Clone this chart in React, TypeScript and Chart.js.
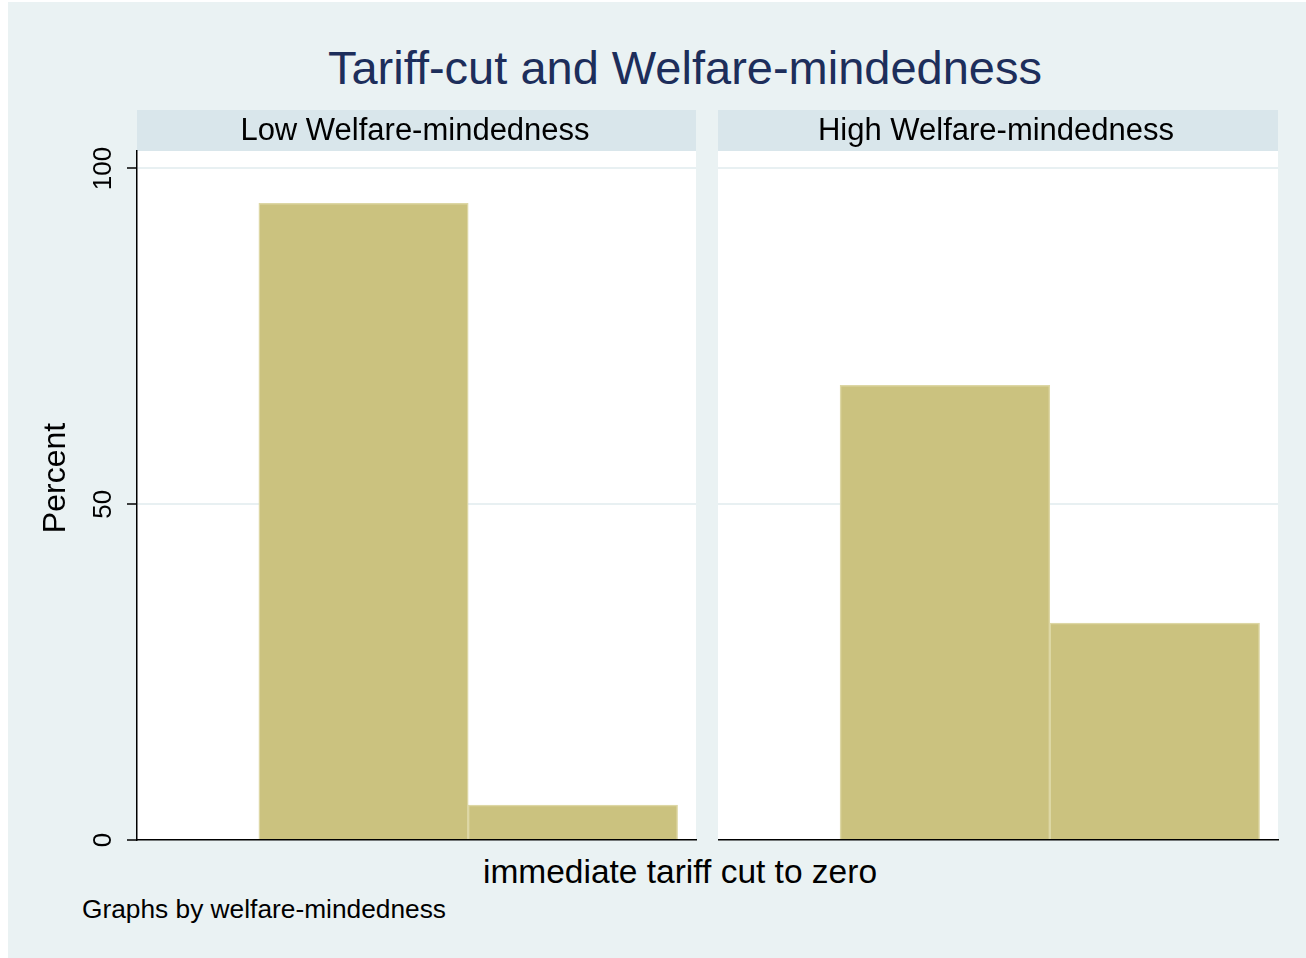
import React, { useEffect, useRef } from "react";
import { Chart, registerables } from "chart.js";

Chart.register(...registerables);

// ---------- data ----------
const chartTitle = "Tariff-cut and Welfare-mindedness";
const panelLabels = ["Low Welfare-mindedness", "High Welfare-mindedness"];
const xValues = [0, 1]; // immediate tariff cut to zero: no / yes
const lowPercent = [94.8, 5.2];
const highPercent = [67.7, 32.3];
const yTickValues = [0, 50, 100];
const yTickLabels = ["0", "50", "100"];
const yAxisTitle = "Percent";
const xAxisTitle = "immediate tariff cut to zero";
const noteText = "Graphs by welfare-mindedness";

// ---------- style ----------
const FONT = '"Liberation Sans", Arial, Helvetica, sans-serif';
const OUTER_BG = "#EAF2F3";
const STRIP_BG = "#D9E6EB";
const GRID = "#E8F0F2";
const BAR_FILL = "#CBC27F";
const BAR_EDGE = "#DDD7A5";
const TITLE_COLOR = "#1d2e5b";
const X_MIN = -1.082;
const X_MAX = 1.588;
const Y_MAX = 102.6;
const CANVAS_TOP = 140;
const CANVAS_H = 710;

const plotBgPlugin = {
  id: "plotBg",
  beforeDraw(chart: any) {
    const { ctx, chartArea } = chart;
    ctx.save();
    ctx.fillStyle = "#ffffff";
    ctx.fillRect(chartArea.left, chartArea.top, chartArea.right - chartArea.left, chartArea.bottom - chartArea.top);
    ctx.restore();
  },
};

const yLabelPlugin = {
  id: "yLabels",
  afterDraw(chart: any) {
    const ctx = chart.ctx as CanvasRenderingContext2D;
    const ys = chart.scales.y;
    ctx.save();
    ctx.fillStyle = "#000";
    ctx.textAlign = "center";
    ctx.textBaseline = "middle";
    ctx.font = `26px ${FONT}`;
    yTickValues.forEach((v, i) => {
      const y = ys.getPixelForValue(v);
      ctx.save();
      ctx.translate(73.5, y);
      ctx.rotate(-Math.PI / 2);
      ctx.fillText(yTickLabels[i], 0, 0);
      ctx.restore();
    });
    ctx.font = `32px ${FONT}`;
    ctx.save();
    ctx.translate(26, 478 - CANVAS_TOP);
    ctx.rotate(-Math.PI / 2);
    ctx.fillText(yAxisTitle, 0, 0);
    ctx.restore();
    ctx.restore();
  },
};

function makeConfig(values: number[], showYAxis: boolean): any {
  return {
    type: "bar",
    data: {
      datasets: [
        {
          data: xValues.map((x, i) => ({ x, y: values[i] })),
          backgroundColor: BAR_FILL,
          borderColor: BAR_EDGE,
          borderWidth: 1.5,
          borderSkipped: "start",
          barPercentage: 1,
          categoryPercentage: 1,
        },
      ],
    },
    options: {
      animation: false,
      responsive: false,
      maintainAspectRatio: false,
      events: [],
      layout: { padding: { left: 0, top: 151 - CANVAS_TOP, right: showYAxis ? 4 : 6, bottom: 10 } },
      plugins: {
        legend: { display: false },
        tooltip: { enabled: false },
        title: { display: false },
      },
      scales: {
        x: {
          type: "linear",
          min: X_MIN,
          max: X_MAX,
          offset: false,
          grid: { display: false, drawTicks: false },
          ticks: { display: false },
          border: { display: true, color: "#000", width: 1.5, z: 1 },
          afterBuildTicks: (s: any) => {
            s.ticks = xValues.map((v) => ({ value: v }));
          },
          afterFit: (s: any) => {
            s.height = 0;
          },
        },
        y: {
          type: "linear",
          min: 0,
          max: Y_MAX,
          afterBuildTicks: (s: any) => {
            s.ticks = yTickValues.map((v) => ({ value: v }));
          },
          afterFit: (s: any) => {
            s.width = showYAxis ? 107 : 0;
          },
          ticks: { display: false },
          grid: {
            display: true,
            color: (c: any) => (c.tick && c.tick.value === 0 ? "rgba(0,0,0,0)" : GRID),
            lineWidth: 2,
            drawTicks: showYAxis,
            tickLength: 10,
            tickColor: "#000",
            tickWidth: 1.5,
          },
          border: { display: showYAxis, color: "#000", width: 1.5 },
        },
      },
    },
    plugins: showYAxis ? [plotBgPlugin, yLabelPlugin] : [plotBgPlugin],
  };
}

function Panel(props: { values: number[]; showYAxis: boolean; left: number; width: number }) {
  const ref = useRef<HTMLCanvasElement | null>(null);
  useEffect(() => {
    if (!ref.current) return;
    const chart = new Chart(ref.current, makeConfig(props.values, props.showYAxis));
    return () => chart.destroy();
  }, []);
  return (
    <canvas
      ref={ref}
      width={props.width}
      height={CANVAS_H}
      style={{
        position: "absolute",
        left: props.left,
        top: CANVAS_TOP,
        width: props.width,
        height: CANVAS_H,
        display: "block",
      }}
    />
  );
}

function Text(props: {
  text: string;
  size: number;
  baseline: number;
  left?: number;
  center?: number;
  color?: string;
}) {
  const top = props.baseline - 0.8465 * props.size;
  const style: React.CSSProperties = {
    position: "absolute",
    top,
    fontFamily: FONT,
    fontSize: props.size,
    lineHeight: `${props.size}px`,
    color: props.color || "#000",
    whiteSpace: "nowrap",
  };
  if (props.center !== undefined) {
    style.left = props.center - 600;
    style.width = 1200;
    style.textAlign = "center";
  } else {
    style.left = props.left;
  }
  return <div style={style}>{props.text}</div>;
}

export default function App() {
  return (
    <div
      style={{
        position: "absolute",
        left: 0,
        top: 0,
        width: 1306,
        height: 958,
        background: "#fff",
        overflow: "hidden",
      }}
    >
      <div
        style={{
          position: "absolute",
          left: 8,
          top: 2,
          width: 1298,
          height: 956,
          background: OUTER_BG,
        }}
      />
      <Text text={chartTitle} size={47} baseline={84} center={685} color={TITLE_COLOR} />
      <div style={{ position: "absolute", left: 137, top: 110, width: 559, height: 41, background: STRIP_BG }} />
      <div style={{ position: "absolute", left: 718, top: 110, width: 560, height: 41, background: STRIP_BG }} />
      <Panel values={lowPercent} showYAxis={true} left={30} width={670} />
      <Panel values={highPercent} showYAxis={false} left={718} width={566} />
      <Text text={panelLabels[0]} size={31} baseline={140} center={415} />
      <Text text={panelLabels[1]} size={31} baseline={140} center={996} />
      <Text text={xAxisTitle} size={33.5} baseline={883} center={680} />
      <Text text={noteText} size={26.3} baseline={918} left={82} />
    </div>
  );
}
